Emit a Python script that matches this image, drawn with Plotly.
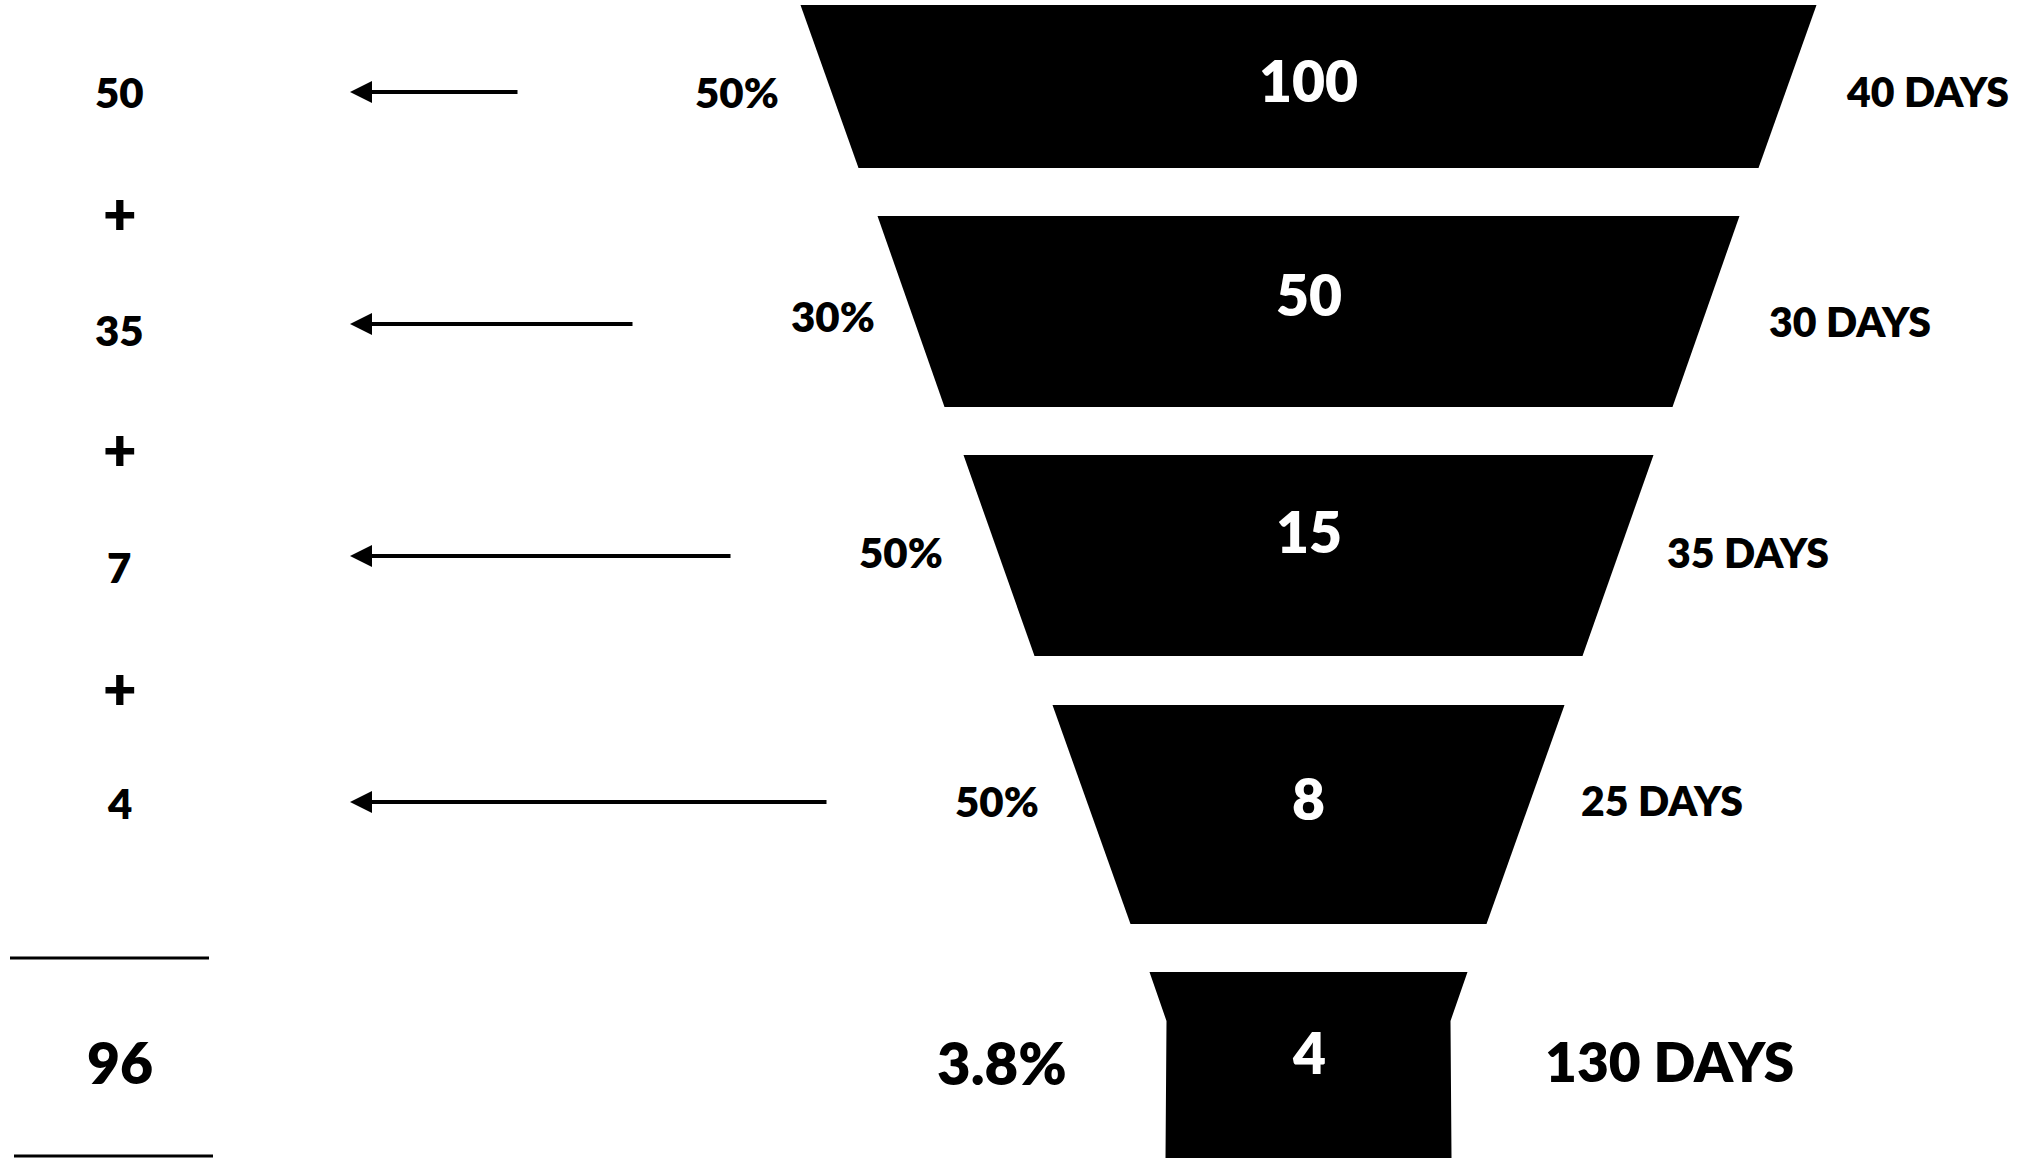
import plotly.graph_objects as go

# ---------------- data ----------------
stage_values = [100, 50, 15, 8, 4]
conversion_labels = ["50%", "30%", "50%", "50%", "3.8%"]
stage_days = [40, 30, 35, 25, 130]
contributions = [50, 35, 7, 4]
total_contribution = 96

# ---------------- layout geometry (pixel-like axis units) ----------------
W, H = 2038, 1158
CX = 1308.5
stage_top = [5, 216, 455, 705, 972]
stage_bottom = [168, 407, 656, 924, 1158]
top_half = [508, 431, 345, 256, 159]
bottom_half = [450, 364, 274, 178, 143]
neck_y, neck_half = 1021, 142          # last stage narrows into a stem

value_y = [80, 294, 531, 798, 1052]
pct_x = [737, 833, 901, 997, 1002]
pct_y = [92, 316, 552, 801, 1062]
days_x = [1927, 1850, 1748, 1662, 1669]
days_y = [91, 321, 552, 800, 1061]

left_x = 119
contrib_y = [92, 330, 567, 803]
plus_y = [212, 448, 687]
total_y = 1062
arrow_head_x = 350
arrow_tail_x = [519, 634, 732, 828]
arrow_y = [92, 324, 556, 802]

FONT = "Lato"
WEIGHT = 800
fig = go.Figure()

# funnel stages
for i in range(len(stage_values)):
    t, b = stage_top[i], stage_bottom[i]
    if i < len(stage_values) - 1:
        xs = [CX - top_half[i], CX + top_half[i], CX + bottom_half[i], CX - bottom_half[i], CX - top_half[i]]
        ys = [t, t, b, b, t]
    else:
        xs = [CX - top_half[i], CX + top_half[i], CX + neck_half, CX + bottom_half[i],
              CX - bottom_half[i], CX - neck_half, CX - top_half[i]]
        ys = [t, t, neck_y, b, b, neck_y, t]
    fig.add_trace(go.Scatter(x=xs, y=ys, mode="lines", fill="toself",
                             fillcolor="black", line=dict(color="black", width=0),
                             hoverinfo="skip", showlegend=False))

annotations = []

def txt(x, y, s, size, color="black"):
    annotations.append(dict(x=x, y=y, xref="x", yref="y", text=s, showarrow=False,
                            xanchor="center", yanchor="middle",
                            font=dict(family=FONT, size=size, color=color, weight=WEIGHT)))

for i, v in enumerate(stage_values):
    txt(CX, value_y[i], str(v), 57, "white")

for i, p in enumerate(conversion_labels):
    txt(pct_x[i], pct_y[i], p, 42 if i < 4 else 58)

for i, d in enumerate(stage_days):
    txt(days_x[i], days_y[i], f"{d} DAYS", 41 if i < 4 else 55)

for i, c in enumerate(contributions):
    txt(left_x, contrib_y[i], str(c), 42)
for y in plus_y:
    txt(left_x + 1, y, "+", 58)
txt(left_x + 1, total_y, str(total_contribution), 57)

for i in range(len(contributions)):
    annotations.append(dict(x=arrow_head_x, y=arrow_y[i], ax=arrow_tail_x[i], ay=arrow_y[i],
                            xref="x", yref="y", axref="x", ayref="y", text="",
                            showarrow=True, arrowhead=2, arrowsize=1.1, arrowwidth=4,
                            arrowcolor="black", standoff=0, startstandoff=0))

shapes = [
    dict(type="line", x0=10, x1=209, y0=958, y1=958, xref="x", yref="y",
         line=dict(color="black", width=3)),
    dict(type="line", x0=14, x1=213, y0=1156, y1=1156, xref="x", yref="y",
         line=dict(color="black", width=3)),
]

fig.update_layout(
    width=W, height=H,
    margin=dict(l=0, r=0, t=0, b=0),
    paper_bgcolor="white", plot_bgcolor="white",
    xaxis=dict(range=[0, W], visible=False, fixedrange=True),
    yaxis=dict(range=[H, 0], visible=False, fixedrange=True),
    annotations=annotations, shapes=shapes, showlegend=False,
)

fig.write_html("out.html", config={"displayModeBar": False},
               post_script="document.body.style.margin='0';document.body.style.overflow='hidden';")
